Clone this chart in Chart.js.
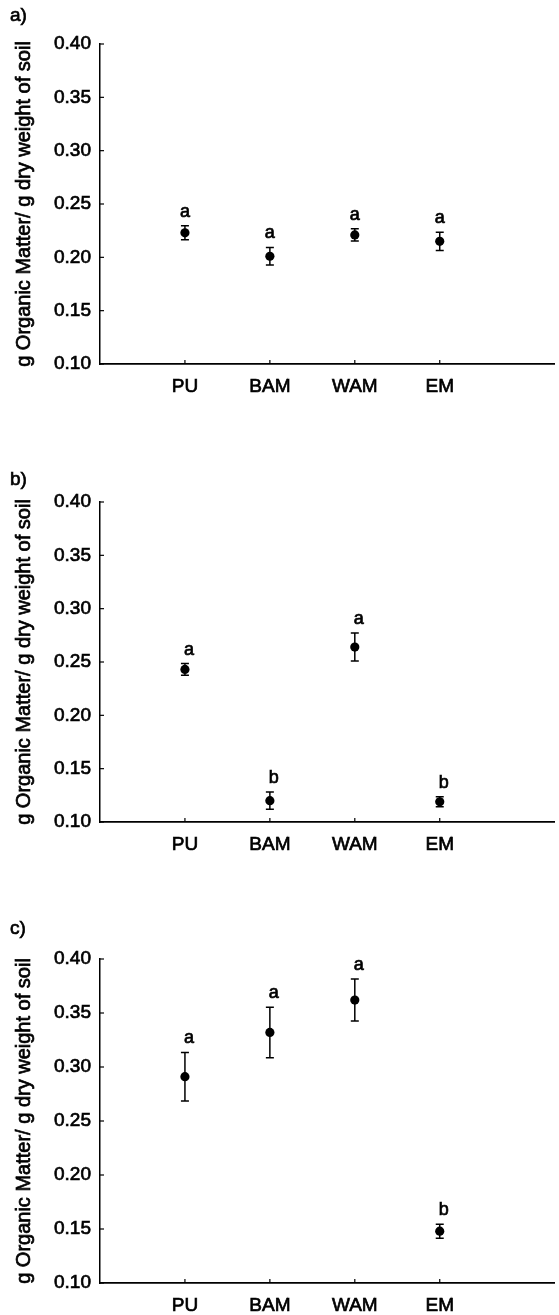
<!DOCTYPE html>
<html>
<head>
<meta charset="utf-8">
<script src="https://cdn.jsdelivr.net/npm/chart.js@4.4.1/dist/chart.umd.min.js"></script>
<style>
  html, body { margin: 0; padding: 0; background: #fff; }
  body { width: 559px; height: 1315px; position: relative; overflow: hidden; }
  .panel { position: absolute; left: 0; }
</style>
</head>
<body>
<canvas id="panel-a" class="panel" width="559" height="404" style="top:0px"></canvas>
<canvas id="panel-b" class="panel" width="559" height="404" style="top:458px"></canvas>
<canvas id="panel-c" class="panel" width="559" height="408" style="top:915px"></canvas>
<script>
// treatments along the x axis
var categories = ["PU", "BAM", "WAM", "EM"];

// a) means, standard errors and significance letters
var meanA = [0.223, 0.201, 0.221, 0.215];
var errA = [0.0066, 0.0082, 0.0058, 0.0086];
var lettersA = ["a", "a", "a", "a"];

// b)
var meanB = [0.243, 0.120, 0.264, 0.119];
var errB = [0.0055, 0.0081, 0.0131, 0.0047];
var lettersB = ["a", "b", "a", "b"];

// c)
var meanC = [0.291, 0.332, 0.362, 0.148];
var errC = [0.0224, 0.0234, 0.0195, 0.0065];
var lettersC = ["a", "a", "a", "b"];

var yMin = 0.10, yMax = 0.40, yStep = 0.05;
var yTitle = "g Organic Matter/ g dry weight of soil";

var FONT = "'Liberation Sans', Arial, Helvetica, sans-serif";
var INK = 0.7; // extra stroke so the type reads a little heavier
Chart.defaults.font.family = FONT;
Chart.defaults.color = "#000";

function heavyText(ctx, text, x, y) {
  ctx.fillText(text, x, y);
  ctx.strokeText(text, x, y);
}

function makePanel(canvasId, tag, tagY, means, errors, letters, letterDx) {
  var panelPlugin = {
    id: "panelMarks",
    beforeDatasetsDraw: function (chart) {
      var x = chart.scales.x, y = chart.scales.y, ctx = chart.ctx;
      ctx.save();
      ctx.strokeStyle = "#000";
      ctx.lineWidth = 1.5;
      means.forEach(function (m, i) {
        var px = x.getPixelForValue(i + 1);
        var top = y.getPixelForValue(m + errors[i]);
        var bot = y.getPixelForValue(m - errors[i]);
        ctx.beginPath();
        ctx.moveTo(px, top); ctx.lineTo(px, bot);
        ctx.moveTo(px - 4, top); ctx.lineTo(px + 4, top);
        ctx.moveTo(px - 4, bot); ctx.lineTo(px + 4, bot);
        ctx.stroke();
      });
      ctx.restore();
    },
    afterDraw: function (chart) {
      var x = chart.scales.x, y = chart.scales.y, ctx = chart.ctx;
      var area = chart.chartArea;
      ctx.save();
      ctx.strokeStyle = "#000";
      ctx.lineWidth = 1.2;
      // short inward tick marks
      y.ticks.forEach(function (t) {
        var py = y.getPixelForValue(t.value);
        ctx.beginPath(); ctx.moveTo(area.left, py); ctx.lineTo(area.left + 4, py); ctx.stroke();
      });
      x.ticks.forEach(function (t) {
        var px = x.getPixelForValue(t.value);
        ctx.beginPath(); ctx.moveTo(px, area.bottom); ctx.lineTo(px, area.bottom - 4); ctx.stroke();
      });

      ctx.fillStyle = "#000";
      ctx.lineWidth = INK;
      ctx.textBaseline = "middle";

      // significance letters above each error bar
      ctx.font = "18px " + FONT;
      ctx.textAlign = "center";
      means.forEach(function (m, i) {
        var px = x.getPixelForValue(i + 1) + letterDx;
        var top = y.getPixelForValue(m + errors[i]);
        heavyText(ctx, letters[i], px, top - 14);
      });

      // panel tag
      ctx.textAlign = "left";
      ctx.font = "19px " + FONT;
      heavyText(ctx, tag, 10, tagY);

      // rotated y axis title, centred on the axis
      ctx.font = "20px " + FONT;
      ctx.textAlign = "center";
      ctx.translate(24, (area.top + area.bottom) / 2);
      ctx.rotate(-Math.PI / 2);
      heavyText(ctx, yTitle, 0, 0);
      ctx.restore();
    }
  };

  var tickStyle = {
    font: { size: 19 },
    color: "#000",
    textStrokeColor: "#000",
    textStrokeWidth: INK
  };

  return new Chart(document.getElementById(canvasId), {
    type: "scatter",
    data: {
      datasets: [{
        data: means.map(function (m, i) { return { x: i + 1, y: m }; }),
        backgroundColor: "#000",
        borderWidth: 0,
        pointRadius: 4.6,
        pointHoverRadius: 4.6,
        clip: false
      }]
    },
    options: {
      responsive: false,
      animation: false,
      devicePixelRatio: 1,
      layout: { padding: { top: 44, left: 0, right: 0, bottom: 0 } },
      plugins: { legend: { display: false }, tooltip: { enabled: false } },
      scales: {
        x: {
          type: "linear",
          min: 0,
          max: 5.35,
          grid: { display: false, drawTicks: false },
          border: { display: true, color: "#000", width: 1.8 },
          afterBuildTicks: function (scale) {
            scale.ticks = categories.map(function (c, i) { return { value: i + 1 }; });
          },
          afterFit: function (scale) { scale.height = 40; },
          ticks: Object.assign({
            autoSkip: false,
            maxRotation: 0,
            padding: 11,
            callback: function (v) { return categories[v - 1] || ""; }
          }, tickStyle)
        },
        y: {
          min: yMin,
          max: yMax,
          grid: { display: false, drawTicks: false },
          border: { display: true, color: "#000", width: 1.5 },
          afterFit: function (scale) { scale.width = 100; },
          ticks: Object.assign({
            stepSize: yStep,
            padding: 9,
            callback: function (v) { return v.toFixed(2); }
          }, tickStyle)
        }
      }
    },
    plugins: [panelPlugin]
  });
}

makePanel("panel-a", "a)", 16, meanA, errA, lettersA, 0);
makePanel("panel-b", "b)", 22, meanB, errB, lettersB, 4);
makePanel("panel-c", "c)", 14, meanC, errC, lettersC, 4);
</script>
</body>
</html>
